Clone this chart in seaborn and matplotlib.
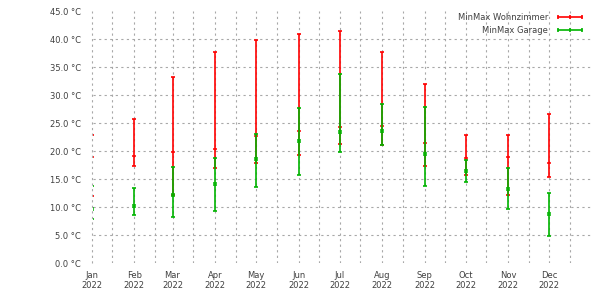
import matplotlib
matplotlib.use("Agg")
import matplotlib.pyplot as plt
import matplotlib.dates as mdates
from matplotlib.path import Path
from matplotlib.lines import Line2D
import seaborn as sns
import pandas as pd
import numpy as np

# ---- data (°C), one entry per month (plotted at the 1st of the month) ----
months = ["2022-01-01", "2022-02-01", "2022-03-01", "2022-04-01", "2022-05-01", "2022-06-01",
          "2022-07-01", "2022-08-01", "2022-09-01", "2022-10-01", "2022-11-01", "2022-12-01"]
month_labels = ["Jan\n2022", "Feb\n2022", "Mar\n2022", "Apr\n2022", "May\n2022", "Jun\n2022",
                "Jul\n2022", "Aug\n2022", "Sep\n2022", "Oct\n2022", "Nov\n2022", "Dec\n2022"]

wz_max  = [22.9, 25.7, 33.2, 37.7, 39.9, 41.0, 41.5, 37.7, 32.1, 23.0, 23.0, 26.7]
wz_mean = [19.0, 19.1, 19.8, 20.5, 22.7, 23.6, 24.3, 24.5, 21.4, 18.75, 19.0, 18.0]
wz_min  = [12.1, 17.3, 12.2, 17.0, 18.0, 19.3, 21.25, 21.1, 17.3, 15.8, 12.2, 15.4]

ga_max  = [13.75, 13.4, 17.2, 18.75, 23.1, 27.7, 33.75, 28.4, 27.9, 18.4, 17.0, 12.6]
ga_mean = [9.7, 10.2, 12.2, 14.1, 18.6, 21.8, 23.4, 23.6, 19.6, 16.4, 13.3, 8.8]
ga_min  = [8.0, 8.6, 8.2, 9.3, 13.6, 15.7, 19.9, 21.1, 13.75, 14.5, 9.7, 4.9]

series_names = ["MinMax Wohnzimmer", "MinMax Garage"]
yticks = [0, 5, 10, 15, 20, 25, 30, 35, 40, 45]

RED = "#ff0000"
GREEN = "#00b400"
TXT = "#404040"
GRID = "#a8a8a8"

dates = pd.to_datetime(months)
df = pd.DataFrame({
    "date": list(dates) * 2,
    "mean": wz_mean + ga_mean,
    "lo": wz_min + ga_min,
    "hi": wz_max + ga_max,
    "series": [series_names[0]] * 12 + [series_names[1]] * 12,
})

sns.set_theme(style="white")
plt.rcParams["font.family"] = ["DejaVu Sans"]

W, H = 610, 300
fig = plt.figure(figsize=(W / 100, H / 100), dpi=100)
# Jan 1 2022 sits at x = 91.7 px, Jan 1 2023 at 591.8 px; the visible axis
# starts a little after Jan 1 so that the January bar line is clipped away.
px_day = (591.8 - 91.7) / 365.0
skip_days = 1.3
left_px = 91.7 + skip_days * px_day
ax = fig.add_axes([left_px / W, 36.7 / H, (591.8 - left_px) / W, 252.0 / H])

# double-dash marker for the garage mean
eq_marker = Path([(-1, 0.35), (1, 0.35), (-1, -0.35), (1, -0.35)],
                 [Path.MOVETO, Path.LINETO, Path.MOVETO, Path.LINETO])

styles = {series_names[0]: (RED, "_", 2), series_names[1]: (GREEN, eq_marker, 3)}
for name in series_names:
    color, mk, z = styles[name]
    sub = df[df["series"] == name]
    ax.errorbar(sub["date"], sub["mean"],
                yerr=[sub["mean"] - sub["lo"], sub["hi"] - sub["mean"]],
                fmt="none", ecolor=color, elinewidth=1.2, capsize=1.7, capthick=1.2,
                zorder=z)
    sns.scatterplot(data=sub, x="date", y="mean", ax=ax, marker=mk, s=10,
                    color=color, edgecolor=color, linewidth=1.1, zorder=z + 0.1,
                    legend=False)

ax.set_xticks(dates)
ax.set_xticklabels(month_labels)
ax.xaxis.set_minor_locator(mdates.MonthLocator(bymonthday=16))
ax.set_yticks(yticks)
ax.set_yticklabels([f"{v:.1f} °C" for v in yticks])
ax.set_xlabel("")
ax.set_ylabel("")

# axes ranges (after set_xticks, which may widen them)
x0 = mdates.date2num(np.datetime64("2022-01-01"))
x1 = mdates.date2num(np.datetime64("2023-01-01"))
ax.set_xlim(x0 + skip_days, x1)
ax.set_ylim(0, 45)

ax.tick_params(axis="both", which="both", length=0, labelsize=6, labelcolor=TXT)
ax.tick_params(axis="x", pad=5.5)
ax.tick_params(axis="y", pad=9.0)

for s in ax.spines.values():
    s.set_visible(False)

ax.grid(True, which="major", axis="both", color=GRID, linestyle=(0, (2, 3)), linewidth=0.8)
ax.grid(True, which="minor", axis="x", color=GRID, linestyle=(0, (2, 3)), linewidth=0.8)
ygl = ax.yaxis.get_gridlines()
ygl[0].set_visible(False)
ygl[-1].set_visible(False)
ax.set_axisbelow(True)

# Jan 1 grid line and label sit just left of the visible axis start
ax.axvline(x0, color=GRID, linestyle=(0, (2, 3)), linewidth=0.8, clip_on=False, zorder=0.5)
fig.text(91.7 / W, 1 - 280.5 / H, month_labels[0], ha="center", va="center",
         fontsize=6, color=TXT, linespacing=1.25)

handles = [Line2D([], [], color=RED, lw=1.2, marker="|", markersize=3.5, markeredgewidth=1.2),
           Line2D([], [], color=GREEN, lw=1.2, marker="|", markersize=3.5, markeredgewidth=1.2)]
ax.legend(handles, series_names, loc="upper right",
          bbox_to_anchor=(584 / W, 1 - 13 / H), bbox_transform=fig.transFigure,
          frameon=False, markerfirst=False, numpoints=3, fontsize=6,
          handlelength=3.4, handletextpad=0.9, labelspacing=0.45,
          borderpad=0, borderaxespad=0, labelcolor=TXT)

fig.savefig("out.png", dpi=100)
